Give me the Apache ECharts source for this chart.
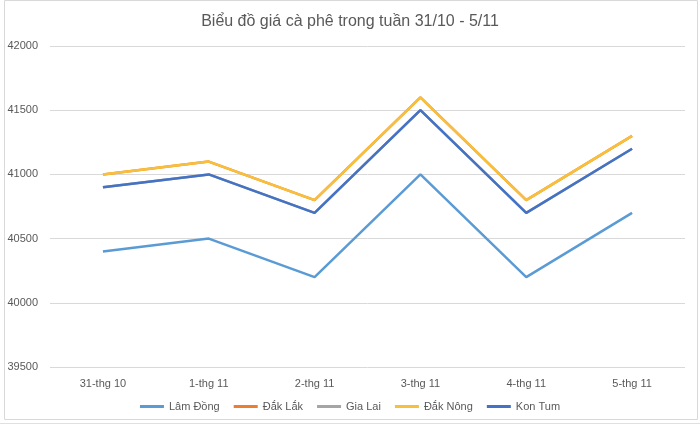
<!DOCTYPE html>
<html><head><meta charset="utf-8">
<script src="https://cdn.jsdelivr.net/npm/echarts@6/dist/echarts.min.js"></script>
<style>html,body{margin:0;padding:0;background:#fff}#c{width:700px;height:429px}</style>
</head><body><div id="c"></div>
<script>
var categories = ['31-thg 10', '1-thg 11', '2-thg 11', '3-thg 11', '4-thg 11', '5-thg 11'];
var lamDong = [40400, 40500, 40200, 41000, 40200, 40700];
var dakLak = [41000, 41100, 40800, 41600, 40800, 41300];
var giaLai = [40900, 41000, 40700, 41500, 40700, 41200];
var dakNong = [41000, 41100, 40800, 41600, 40800, 41300];
var konTum = [40900, 41000, 40700, 41500, 40700, 41200];
var yTicks = [39500, 40000, 40500, 41000, 41500, 42000];

var font = '"Liberation Sans", "Open Sans", sans-serif';
function s(name, data, color) {
  return { name: name, type: 'line', data: data, symbol: 'none',
    lineStyle: { color: color, width: 2.5 }, itemStyle: { color: color } };
}
var chart = echarts.init(document.getElementById('c'));
chart.setOption({
  animation: false,
  title: { text: 'Biểu đồ giá cà phê trong tuần 31/10 - 5/11', left: 'center', top: 9,
    textStyle: { fontFamily: font, fontSize: 16, fontWeight: 'normal', color: '#595959' } },
  grid: { left: 50, right: 15, top: 46, bottom: 62 },
  legend: { bottom: 12, itemWidth: 24, itemHeight: 3, itemGap: 14,
    icon: 'rect',
    textStyle: { fontFamily: font, fontSize: 11, color: '#595959' } },
  xAxis: { type: 'category', data: categories, boundaryGap: true,
    axisLine: { show: false }, axisTick: { show: false },
    axisLabel: { fontFamily: font, fontSize: 11, color: '#595959', margin: 11 } },
  yAxis: { type: 'value', min: yTicks[0], max: yTicks[yTicks.length - 1], interval: 500,
    axisLine: { show: false }, axisTick: { show: false },
    axisLabel: { fontFamily: font, fontSize: 11, color: '#595959', margin: 12,
      formatter: function (v) { return String(v); } },
    splitLine: { lineStyle: { color: '#d9d9d9', width: 1 } } },
  graphic: [
    { type: 'rect', shape: { x: 4.5, y: 0.5, width: 693, height: 419 }, style: { fill: 'none', stroke: '#d9d9d9', lineWidth: 1 }, z: -1 },
    { type: 'line', shape: { x1: 0, y1: 423.5, x2: 700, y2: 423.5 }, style: { stroke: '#e0e0e0' } }
  ],
  series: [
    s('Lâm Đồng', lamDong, '#5b9bd5'),
    s('Đắk Lắk', dakLak, '#ed7d31'),
    s('Gia Lai', giaLai, '#a5a5a5'),
    s('Đắk Nông', dakNong, '#f8c03a'),
    s('Kon Tum', konTum, '#4472c4')
  ]
});
</script></body></html>
